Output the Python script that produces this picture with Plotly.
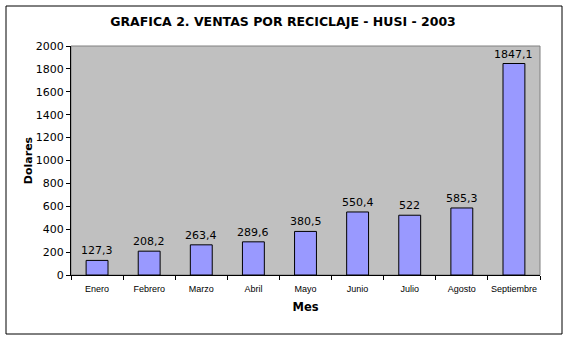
import plotly.graph_objects as go

# Monthly recycling sales, HUSI 2003 (USD)
meses = ["Enero", "Febrero", "Marzo", "Abril", "Mayo", "Junio", "Julio", "Agosto", "Septiembre"]
ventas = [127.3, 208.2, 263.4, 289.6, 380.5, 550.4, 522, 585.3, 1847.1]
y_ticks = [0, 200, 400, 600, 800, 1000, 1200, 1400, 1600, 1800, 2000]

etiquetas = [f"{v:g}".replace(".", ",") for v in ventas]

W, H = 567, 340
L, R, T, B = 71, 27, 46, 65
pw, ph = W - L - R, H - T - B


def px_to_paper(x, y):
    return (x - L) / pw, (H - B - y) / ph


fig = go.Figure(
    go.Bar(
        x=meses,
        y=ventas,
        marker=dict(color="#9999FF", line=dict(color="#000000", width=1)),
        width=0.42,
    )
)

# value labels above each bar
for mes, v, t in zip(meses, ventas, etiquetas):
    fig.add_annotation(x=mes, y=v, text=t, showarrow=False, yanchor="bottom", yshift=1,
                       font=dict(family="DejaVu Sans", size=11, color="#000000"))

# outer frame around the whole chart
x0, y0 = px_to_paper(6, 334)
x1, y1 = px_to_paper(562, 6)
fig.add_shape(type="rect", xref="paper", yref="paper", x0=x0, y0=y0, x1=x1, y1=y1,
              line=dict(color="#000000", width=1), fillcolor="rgba(0,0,0,0)", layer="below")

fig.update_layout(
    width=W,
    height=H,
    margin=dict(l=L, r=R, t=T, b=B, pad=0),
    paper_bgcolor="#FFFFFF",
    plot_bgcolor="#C0C0C0",
    showlegend=False,
    title=dict(
        text="<b>GRAFICA 2. VENTAS POR RECICLAJE - HUSI - 2003</b>",
        font=dict(family="DejaVu Sans", size=12.5, color="#000000"),
        x=283 / W, xanchor="center",
        y=1 - 22 / H, yanchor="middle",
    ),
    xaxis=dict(
        type="category",
        tickson="boundaries",
        ticks="outside",
        ticklen=4,
        tickcolor="#000000",
        tickangle=0,
        ticklabelstandoff=5,
        showline=True,
        linecolor="#000000",
        linewidth=1,
        tickfont=dict(family="Liberation Sans", size=9, color="#000000"),
        title=dict(text="<b>Mes</b>", font=dict(family="DejaVu Sans", size=11.5, color="#000000"), standoff=10),
        showgrid=False,
    ),
    yaxis=dict(
        range=[0, 2000],
        tickvals=y_ticks,
        ticks="outside",
        ticklen=4,
        tickcolor="#000000",
        showline=True,
        linecolor="#000000",
        linewidth=1,
        showgrid=False,
        zeroline=False,
        tickfont=dict(family="DejaVu Sans", size=11, color="#000000"),
        title=dict(text="<b>Dolares</b>", font=dict(family="DejaVu Sans", size=11, color="#000000"), standoff=0),
    ),
)

# grey border around the plot area
fig.add_shape(type="rect", xref="paper", yref="paper", x0=0, y0=0, x1=1, y1=1,
              line=dict(color="#808080", width=1), fillcolor="rgba(0,0,0,0)", layer="below")

fig.write_html("out.html")
